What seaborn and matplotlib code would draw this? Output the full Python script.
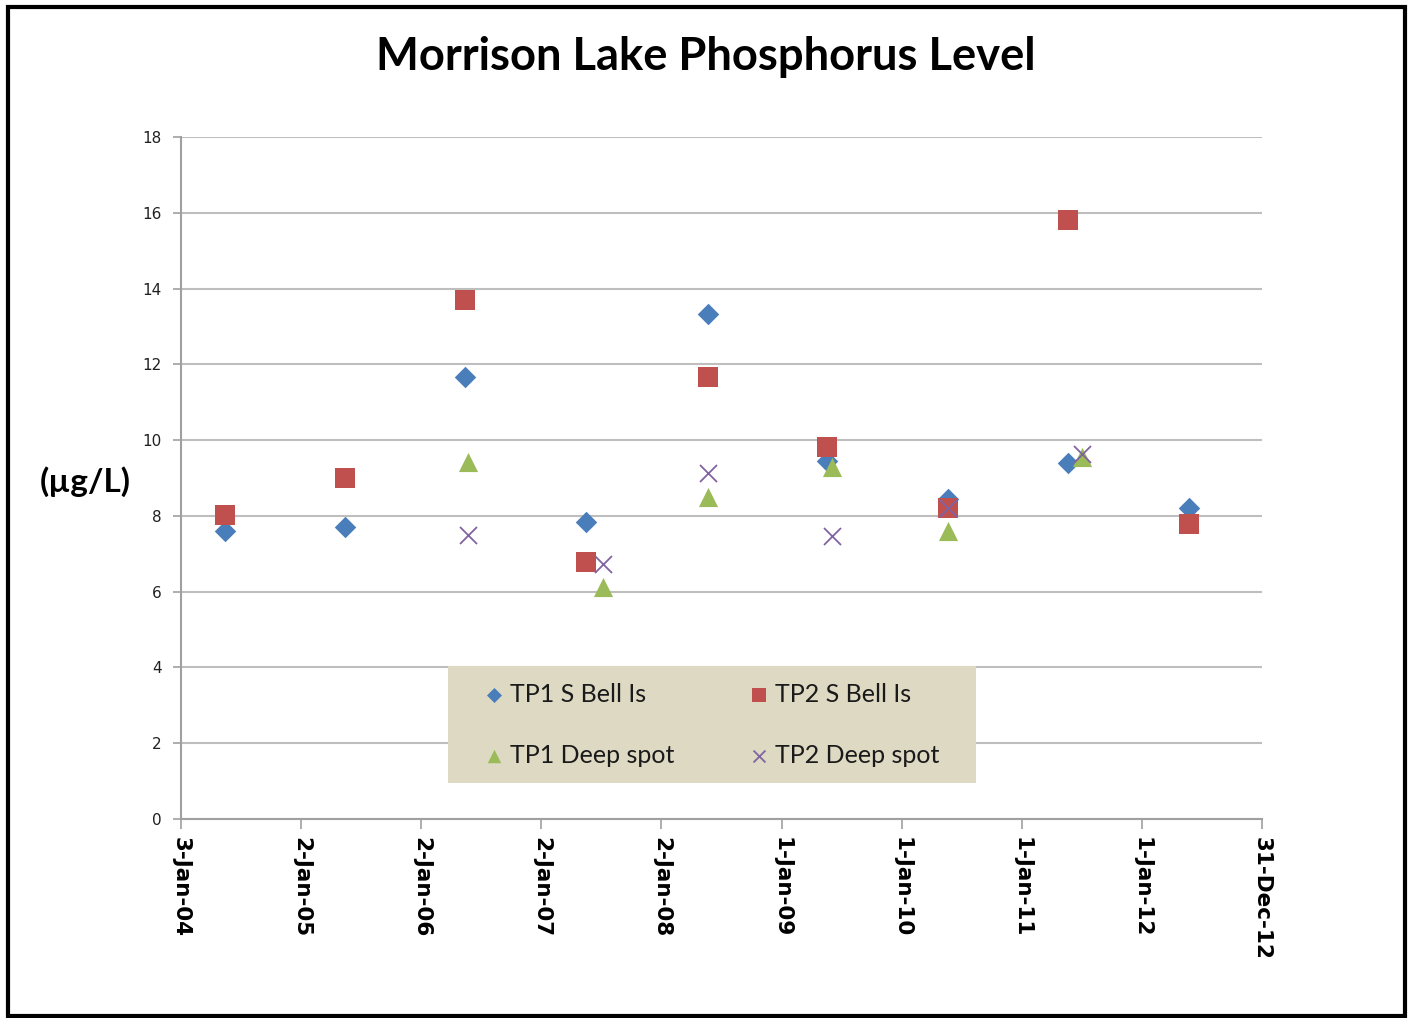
import pandas as pd
import matplotlib.pyplot as plt
import seaborn as sns
from matplotlib.patches import Rectangle

# Sampling dates
bell_dates = ['2004-05-16', '2005-05-16', '2006-05-15', '2007-05-18', '2008-05-23',
              '2009-05-19', '2010-05-22', '2011-05-22', '2012-05-23']
deep_dates = ['2006-05-24', '2007-07-09', '2008-05-23', '2009-06-04', '2010-05-22', '2011-07-04']

# Phosphorus values (ug/L)
tp1_bell = [7.6, 7.7, 11.66, 7.84, 13.32, 9.45, 8.45, 9.39, 8.2]
tp2_bell = [8.02, 9.0, 13.69, 6.78, 11.66, 9.82, 8.2, 15.8, 7.78]
tp1_deep = [9.42, 6.12, 8.5, 9.29, 7.6, 9.55]
tp2_deep = [7.49, 6.73, 9.13, 7.47, 8.2, 9.63]

tick_dates = ['2004-01-03', '2005-01-02', '2006-01-02', '2007-01-02', '2008-01-02',
              '2009-01-01', '2010-01-01', '2011-01-01', '2012-01-01', '2012-12-31']
tick_labels = ['3-Jan-04', '2-Jan-05', '2-Jan-06', '2-Jan-07', '2-Jan-08',
               '1-Jan-09', '1-Jan-10', '1-Jan-11', '1-Jan-12', '31-Dec-12']

bell_dates = pd.to_datetime(bell_dates)
deep_dates = pd.to_datetime(deep_dates)
tick_dates = pd.to_datetime(tick_dates)

sns.set_theme(style="white")
plt.rcParams['font.family'] = ['Lato', 'DejaVu Sans']

fig = plt.figure(figsize=(14.11, 10.18), dpi=100)
ax = fig.add_axes([0.1283, 0.1955, 0.8944 - 0.1283, 0.8654 - 0.1955])

# Chart: the four phosphorus series
sns.scatterplot(x=bell_dates, y=tp1_bell, marker='D', color='#4A7EBB', s=120,
                linewidth=0, label='TP1 S Bell Is', ax=ax, zorder=3)
sns.scatterplot(x=bell_dates, y=tp2_bell, marker='s', color='#C0504D', s=190,
                linewidth=0, label='TP2 S Bell Is', ax=ax, zorder=3)
sns.scatterplot(x=deep_dates, y=tp1_deep, marker='^', color='#9BBB59', s=190,
                linewidth=0, label='TP1 Deep spot', ax=ax, zorder=3)
sns.scatterplot(x=deep_dates, y=tp2_deep, marker='x', color='#8064A2', s=150,
                linewidth=1.3, label='TP2 Deep spot', ax=ax, zorder=3)

ax.set_xlim(tick_dates[0], tick_dates[-1])
ax.set_ylim(0, 18)
ax.set_yticks(range(0, 19, 2))
ax.set_xticks(tick_dates)
ax.set_xticklabels(tick_labels, rotation=270, fontweight='bold', fontsize=15.5,
                   family=['DejaVu Sans'], color='black')
ax.tick_params(axis='y', labelsize=11, colors='#A0A0A0', length=6, width=1.2,
               direction='out', left=True, pad=8, labelcolor='#202020')
ax.tick_params(axis='x', length=7, width=1.2, direction='out', bottom=True,
               colors='#A0A0A0', labelcolor='black', pad=6)
for lbl in ax.get_yticklabels():
    lbl.set_family(['DejaVu Sans'])

ax.grid(axis='y', color='#BEBEBE', linewidth=1.5)
ax.grid(axis='x', visible=False)
sns.despine(ax=ax)
ax.spines['left'].set_color('#A0A0A0')
ax.spines['bottom'].set_color('#A0A0A0')
ax.spines['left'].set_linewidth(1.5)
ax.spines['bottom'].set_linewidth(1.5)
ax.set_xlabel('')
ax.set_ylabel('(µg/L)', rotation=0, fontsize=24, fontweight='bold', color='black',
              va='center')
ax.yaxis.set_label_coords(-0.089, 0.495)

fig.text(0.5, 0.944, 'Morrison Lake Phosphorus Level', ha='center', va='center',
         fontsize=32.7, fontweight='bold', color='black')

# beige legend box
ax.add_patch(Rectangle((0.247, 0.0528), 0.4884, 0.1715, transform=ax.transAxes,
                       facecolor='#DDD9C3', edgecolor='none', zorder=2))

# legend rows: S Bell Is on top, Deep spot below
h, l = ax.get_legend_handles_labels()
order = [0, 2, 1, 3]
leg = ax.legend([h[i] for i in order], [l[i] for i in order],
                loc='center left', bbox_to_anchor=(0.2784, 0.1378), ncol=2,
                frameon=False, fontsize=18, borderpad=0, labelspacing=1.52,
                handlelength=1.0, handletextpad=0.12, markerscale=0.7,
                borderaxespad=0, columnspacing=2.9)
leg.set_zorder(5)
for t in leg.get_texts():
    t.set_color('#1a1a1a')

# Outer black frame
fig.patches.append(Rectangle((0.0055, 0.002), 0.99, 0.991, transform=fig.transFigure,
                             fill=False, edgecolor='black', linewidth=3))

fig.savefig('out.png', dpi=100)
